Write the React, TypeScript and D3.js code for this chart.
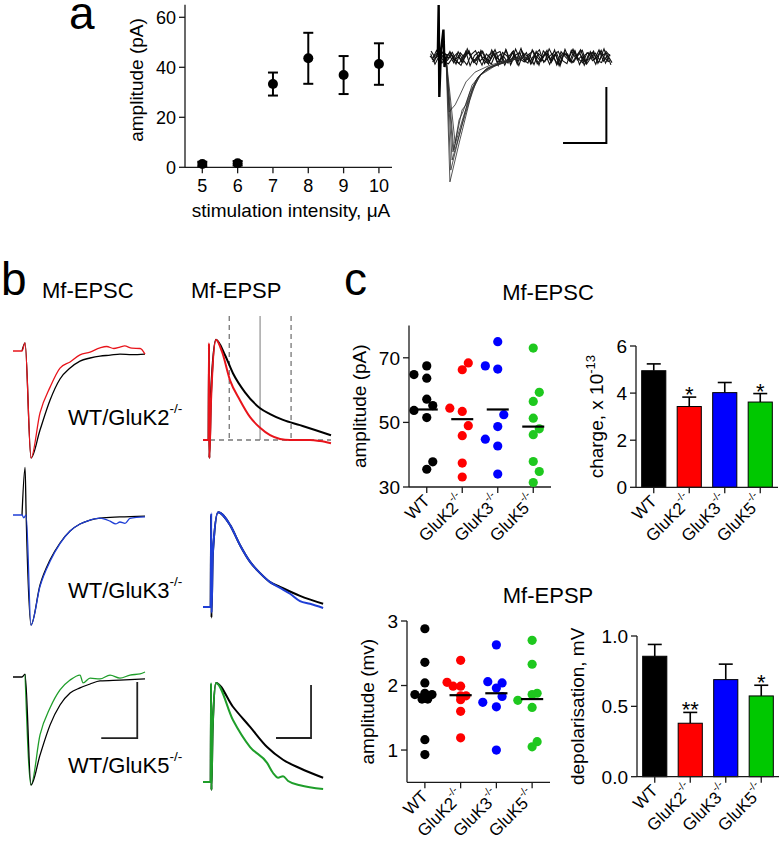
import React from 'react';
import * as d3 from 'd3';

type Pt = [number, number];

const FONT = "'Liberation Sans', Arial, Helvetica, sans-serif";

// ---- panel a: amplitude vs stimulation intensity
const intensities = [5, 6, 7, 8, 9, 10];
const amplitudeMean = [1.3, 1.6, 33.3, 43.6, 36.9, 41.3];
const amplitudeSem = [0.9, 0.9, 4.6, 10.2, 7.6, 8.3];
const amplitudeTicks = [0, 20, 40, 60];

// example sweeps (t in ms, I in pA)
const stimArtifact: Pt[] = [[1.8, 0.5], [2.0, 18.6], [2.15, -14.3], [2.5, 1.5], [3.1, 9.8], [3.35, -3.6], [3.6, 0]];
const successSweeps: Pt[][] = [
  [[3.7, 0], [4.6, -44.6], [6.9, -29.6], [9.2, -15.4], [10.9, -7.5], [13.2, -3.9], [16.2, -2.1], [19.6, -0.7], [23, 0]],
  [[3.7, 0], [5.1, -36.8], [7.4, -24.3], [9.7, -12.5], [11.5, -6.4], [14.3, -3.2], [18, -1.4], [22, 0]],
  [[3.7, 0], [5.3, -33.9], [7.6, -21.8], [9.9, -11.1], [12, -5.7], [15, -2.9], [18.9, -1.1], [22, 0]],
  [[3.7, 0], [5.8, -30.7], [7.4, -18.9], [8.3, -17.1], [9.7, -10], [12.7, -4.6], [16.2, -2.5], [20, -0.6]],
  [[3.7, 0], [4.4, -19.6], [5.8, -17.1], [6.9, -13.6], [8.3, -8.9], [10.4, -5.4], [13.9, -2.9], [17.3, -1.4], [21, 0]],
  [[3.7, 0], [4.8, -40.4], [6.5, -29.6], [8.8, -15.4], [10.6, -8.2], [13.4, -3.9], [17.3, -1.8], [21, -0.3]],
  [[3.7, 0], [5.5, -33.2], [6.7, -22.5], [7.6, -19.6], [9.2, -12.5], [11.3, -6.8], [15, -3.2], [19, -1]],
];
// failures: one value per ms, each sweep starting at its own offset
const failureOffset = [0, 0.5, 0.25, 0.75, 0.15, 0.6];
const failureSweeps: number[][] = [
  [0.4, -1.5, 1.9, 0.2, -1.2, 0.8, -2.5, 1.5, -0.3, 2.2, -1.8, 0.4, -2.9, 1.1, -0.6, 2.6, -1.4, 0.2, -2.2, 1.8, -0.9, 3.1, -1.6, 0.7, -2.7, 1.3, -0.2, 2.4, -1.9, 0.9, -3.2, 1.6, -0.5, 2.8, -1.1, 0.3, -2.4, 1.9, -0.8, 2.5, -1.5, 0.6, -2.0],
  [-1.1, 2.3, -0.6, 1.0, 0.6, -2.1, 1.9, -0.7, -2.8, 0.9, 2.3, -1.5, 0.1, -2.6, 1.7, -0.4, -1.9, 2.7, -1.2, 0.5, -3.0, 1.4, 0.2, -2.3, 2.0, -0.8, -1.6, 2.9, -0.3, -2.5, 1.2, 0.7, -1.8, 2.1, -2.7, 0.4, 1.6, -1.3, -0.1, 2.4, -2.2, 1.0],
  [2.1, -0.4, 0.9, -1.8, -2.4, -0.2, 1.3, -1.7, 2.0, -3.1, 0.5, 1.8, -0.9, -2.2, 2.5, -0.6, 1.0, -2.9, 0.3, 2.2, -1.4, -0.5, 1.6, -2.5, 0.8, 2.6, -1.9, -0.1, 1.2, -2.8, 1.9, 0.0, -1.5, 2.3, -0.7, -2.1, 1.5, 0.6, -2.6, 1.8, -0.3, -1.7],
  [-0.2, 1.6, -2.2, 0.3, 1.4, -1.0, -2.3, 0.7, 1.9, -0.8, -2.7, 2.4, -0.2, -1.5, 1.0, -3.0, 1.6, 0.4, -2.0, 2.8, -0.7, -1.8, 0.9, 2.0, -2.4, -0.3, 1.7, -1.2, 2.5, -2.9, 0.6, 1.1, -2.1, 0.2, 2.6, -1.6, -0.6, 2.1, -2.3, 0.8, 1.3, -2.8],
  [1.2, -2.6, 0.5, 1.9, -0.5, 1.7, -1.6, -3.0, 0.8, 1.4, -2.0, -0.4, 2.1, -1.2, -2.5, 1.2, 2.0, -1.7, -0.8, 1.5, -2.6, 2.3, -0.6, -1.4, 0.9, -2.9, 2.2, 0.4, -1.0, 1.6, -2.2, 2.7, -0.9, -1.9, 1.0, 2.4, -2.5, -0.2, 1.4, -1.1, 2.9, -1.8],
  [-1.8, 0.7, 2.4, -1.0, 2.0, -1.4, 0.3, -2.0, 2.9, -0.6, -1.2, 1.6, -2.4, 0.8, 1.9, -1.9, -0.3, 2.3, -2.8, 0.6, 1.5, -1.0, -2.2, 2.6, 0.1, -1.6, 1.1, -2.6, 0.7, 2.0, -1.3, -2.4, 2.4, -0.4, 1.3, -2.9, 0.9, 1.7, -1.4, -2.0, 2.0, 0.3],
];

// ---- panel b: averaged traces, WT (black) vs KO (colour); EPSC t ms / I pA, EPSP t ms / V mV
const rowLabels = ['GluK2', 'GluK3', 'GluK5'];
const koTraceColors = ['#e8141b', '#1f3fd6', '#1f9e2a'];
const epscWT: Pt[][] = [
  [[5, 0], [6.7, 2.9], [10, -38.2], [15, -28.2], [20.6, -17.5], [26.1, -10], [31.7, -6.1], [37.2, -3.6], [42.8, -2.5], [48.3, -1.8], [54, -1.5], [59.4, -1.1], [66, -1.3], [73.3, -1.1]],
  [[5, 0], [6.7, 17], [7.3, 0], [10, -39.3], [15, -25], [20.6, -16], [26.1, -10], [31.7, -5.7], [37.2, -3.2], [42.8, -1.8], [48.3, -1.1], [59.4, -0.7], [73.3, -0.4]],
  [[0, 0], [5, 0], [6.7, 1], [10, -38.6], [15, -27.9], [20.6, -17.1], [26.1, -10], [31.7, -5.7], [37.2, -3.9], [42.8, -2.5], [48.3, -1.4], [59.4, -1.1], [73.3, -0.7]],
];
const epscKO: Pt[][] = [
  [[0, 0], [5, 0], [6.7, 2.9], [10, -38.2], [15, -22.1], [20.6, -12.9], [26.1, -6.1], [31.7, -3.9], [37.2, -1.4], [42.8, -0.4], [48.3, 1.1], [52, 1.6], [56, 0.9], [59.4, 1.4], [62, 1.8], [66, 1.0], [70.6, 0.9], [73.3, -1.1]],
  [[0, 0], [5, 0], [6, -1], [7.3, 0], [10, -39.3], [15, -25.5], [20.6, -16.5], [26.1, -10.2], [31.7, -5.7], [37.2, -3.2], [42.8, -1.8], [48.3, -1.1], [53.9, -2.2], [57, -3.2], [59.4, -2.5], [62.2, -3.0], [65, -1.2], [73.3, -0.7]],
  [[6.7, 1], [10, -38.6], [15, -20.7], [20.6, -11], [26.1, -4.6], [31.7, -1.1], [37.2, 0.7], [38.9, -2.1], [42.8, -0.4], [48.3, -0.7], [53.9, 0.7], [59.4, -0.4], [65, 0.7], [70.6, 1.1], [73.3, 1.8]],
];
const epspWT: Pt[][] = [
  [[3.2, 0], [3.4, 1.8], [3.6, -0.34], [4.6, 0.9], [7.4, 1.89], [12.6, 1.6], [17.1, 1.26], [24, 0.9], [32.6, 0.6], [38.3, 0.49], [45.7, 0.38], [55.4, 0.28], [64, 0.19], [73.1, 0.09]],
  [[4.4, 0], [4.6, 1.74], [4.8, -0.2], [5.6, 1.0], [8.6, 1.79], [15.4, 1.55], [21.1, 1.17], [26.9, 0.85], [32.6, 0.64], [38.3, 0.47], [44, 0.38], [55.4, 0.21], [68.6, 0.06]],
  [[4.4, 0], [4.6, 1.85], [4.8, -0.15], [5.5, 1.0], [7.4, 1.87], [17.1, 1.42], [26.9, 1.04], [36.6, 0.66], [45.7, 0.42], [55.4, 0.26], [68.6, 0.08]],
];
const epspKO: Pt[][] = [
  [[0, 0], [3.2, 0], [3.4, 1.83], [3.6, -0.34], [4.6, 0.75], [7.4, 1.89], [10.9, 1.66], [15.4, 1.13], [21.1, 0.75], [26.9, 0.43], [32.6, 0.23], [38.3, 0.09], [44, 0.02], [49.7, 0], [61.1, 0], [66.9, -0.02], [73.1, -0.06]],
  [[0, 0], [4.4, 0], [4.7, 1.77], [4.9, -0.11], [5.6, 1.0], [8.6, 1.79], [15.4, 1.55], [21.1, 1.17], [26.9, 0.85], [32.6, 0.64], [38.3, 0.47], [44, 0.36], [49.7, 0.25], [55.4, 0.11], [61.1, 0.06], [68.6, -0.02]],
  [[0, 0], [4.4, 0], [4.6, 1.87], [4.8, -0.15], [5.5, 1.0], [7.4, 1.87], [17.1, 1.17], [26.9, 0.66], [36.6, 0.36], [40, 0.17], [42.9, 0.08], [45.7, 0.11], [48.6, 0.02], [55.4, -0.06], [68.6, -0.13]],
];
const chargeWindow = [15, 32.6, 50.3]; // ms

// ---- panel c
const genotypes = ['WT', 'GluK2', 'GluK3', 'GluK5'];
const dotColors = ['#000000', '#ff0000', '#0000ff', '#1ec81e'];
const barColors = ['#000000', '#ff0000', '#0000ff', '#00c800'];

const epscAmplitude = [
  [64.8, 67.5, 63.7, 57.2, 55.2, 53.7, 51.5, 37.8, 35.5],
  [54.4, 53.4, 66.3, 68.4, 49.0, 45.9, 37.4, 33.1],
  [75.0, 67.5, 66.5, 52.4, 48.7, 44.8, 42.7, 34.0],
  [73.0, 59.3, 56.5, 51.3, 48.0, 46.2, 37.9, 34.8, 31.4],
];
const epscJitter = [
  [-0.36, 0, 0, 0, 0.17, -0.36, 0, 0.17, 0],
  [-0.35, 0, 0, 0.17, 0.17, 0, 0, 0],
  [0, -0.35, 0, 0.17, 0, -0.35, 0, 0],
  [0, 0.17, 0, 0, 0.17, 0, 0, 0.17, 0],
];
const epscMedian = [54.0, 51.0, 54.0, 48.7];
const epscCharge = [4.95, 3.43, 4.02, 3.62];
const epscChargeSem = [0.29, 0.4, 0.43, 0.36];
const epscSig = ['', '*', '', '*'];

const epspAmplitude = [
  [2.88, 2.36, 2.04, 1.88, 1.86, 1.86, 1.79, 1.79, 1.16, 0.93],
  [2.39, 2.05, 1.99, 1.99, 1.84, 1.84, 1.78, 1.6, 1.19],
  [2.63, 2.06, 2.04, 1.96, 1.83, 1.74, 1.67, 1.0],
  [2.7, 2.33, 1.88, 1.86, 1.77, 1.66, 1.13, 1.05],
];
const epspJitter = [
  [0, 0, 0, 0, -0.28, 0.2, -0.08, 0.08, 0, 0],
  [0, -0.38, -0.21, 0, 0, 0.15, 0, 0, 0],
  [0, -0.24, 0.16, 0, 0.16, -0.38, 0, 0],
  [0, 0, 0.14, 0, -0.4, 0, 0.14, 0],
];
const epspMedian = [1.86, 1.85, 1.88, 1.79];
const epspDepol = [0.856, 0.38, 0.69, 0.574];
const epspDepolSem = [0.084, 0.077, 0.11, 0.076];
const epspSig = ['', '**', '', '*'];

const AX = '#1a1a1a';

function Ko({ size }: { size: number }) {
  return <tspan dy={-size * 0.55} fontSize={size * 0.62}>-/-</tspan>;
}

function LeftAxis({ y, x, ticks, fmt, fs = 19 }: any) {
  const [b, t] = y.range();
  return (
    <g>
      <line x1={x} x2={x} y1={b} y2={t} stroke={AX} strokeWidth={1.3} />
      {ticks.map((v: number) => (
        <g key={v}>
          <line x1={x - 6} x2={x} y1={y(v)} y2={y(v)} stroke={AX} strokeWidth={1.3} />
          <text x={x - 9} y={y(v)} dy="0.36em" textAnchor="end" fontSize={fs}>{fmt ? fmt(v) : v}</text>
        </g>
      ))}
    </g>
  );
}

function GenotypeAxis({ band, y }: any) {
  const [x0, x1] = band.range();
  return (
    <g>
      <line x1={x0} x2={x1} y1={y} y2={y} stroke={AX} strokeWidth={1.3} />
      {genotypes.map((g, k) => {
        const cx = band(g) + band.bandwidth() / 2;
        return (
          <g key={g}>
            <line x1={cx} x2={cx} y1={y} y2={y + 6} stroke={AX} strokeWidth={1.3} />
            <text transform={`translate(${cx + 4},${y + 15}) rotate(-45)`} textAnchor="end" fontSize={17}>
              {g}{k > 0 && <Ko size={17} />}
            </text>
          </g>
        );
      })}
    </g>
  );
}

function DotPlot({ values, jitter, medians, y, band, ticks, fmt, label, labelX }: any) {
  const bw = band.bandwidth();
  const [bottom, top] = y.range();
  return (
    <g>
      <LeftAxis y={y} x={band.range()[0]} ticks={ticks} fmt={fmt} />
      <GenotypeAxis band={band} y={bottom} />
      {values.map((vals: number[], k: number) => {
        const cx = band(genotypes[k]) + bw / 2;
        return (
          <g key={k}>
            {vals.map((v, j) => (
              <circle key={j} cx={cx + jitter[k][j] * bw} cy={y(v)} r={4.6} fill={dotColors[k]} />
            ))}
            <line x1={cx - bw * 0.31} x2={cx + bw * 0.31} y1={y(medians[k])} y2={y(medians[k])} stroke="#000" strokeWidth={2.2} />
          </g>
        );
      })}
      <text transform={`translate(${labelX},${(top + bottom) / 2}) rotate(-90)`} textAnchor="middle" fontSize={19}>{label}</text>
    </g>
  );
}

function BarPlot({ means, sems, sig, y, band, ticks, fmt, label, labelX }: any) {
  const bw = band.bandwidth();
  const [bottom, top] = y.range();
  return (
    <g>
      {means.map((m: number, k: number) => {
        const bx = band(genotypes[k]);
        const cx = bx + bw / 2;
        const errY = y(m + sems[k]);
        return (
          <g key={k}>
            <line x1={cx} x2={cx} y1={y(m)} y2={errY} stroke="#000" strokeWidth={1.6} />
            <line x1={cx - 7} x2={cx + 7} y1={errY} y2={errY} stroke="#000" strokeWidth={1.6} />
            <rect x={bx} y={y(m)} width={bw} height={y(0) - y(m)} fill={barColors[k]} stroke="#000" strokeWidth={1} />
            {sig[k] && <text x={cx} y={errY + 5} textAnchor="middle" fontSize={22}>{sig[k]}</text>}
          </g>
        );
      })}
      <LeftAxis y={y} x={band.range()[0]} ticks={ticks} fmt={fmt} />
      <GenotypeAxis band={band} y={bottom} />
      <text transform={`translate(${labelX},${(top + bottom) / 2}) rotate(-90)`} textAnchor="middle" fontSize={19}>{label}</text>
    </g>
  );
}

function PanelA() {
  const x = d3.scaleLinear().domain([4.51, 10.37]).range([185, 392]);
  const y = d3.scaleLinear().domain([0, 65]).range([167.3, 4.8]);
  return (
    <g>
      <text x={69} y={29} fontSize={46}>a</text>
      <LeftAxis y={y} x={185} ticks={amplitudeTicks} fs={18} />
      <line x1={185} x2={392} y1={y(0)} y2={y(0)} stroke={AX} strokeWidth={1.3} />
      {intensities.map((v) => (
        <g key={v}>
          <line x1={x(v)} x2={x(v)} y1={y(0)} y2={y(0) + 6} stroke={AX} strokeWidth={1.3} />
          <text x={x(v)} y={192} textAnchor="middle" fontSize={18}>{v}</text>
        </g>
      ))}
      {intensities.map((v, k) => (
        <g key={v}>
          <line x1={x(v)} x2={x(v)} y1={y(amplitudeMean[k] - amplitudeSem[k])} y2={y(amplitudeMean[k] + amplitudeSem[k])} stroke="#000" strokeWidth={2} />
          {[-1, 1].map((s) => (
            <line key={s} x1={x(v) - 5} x2={x(v) + 5} y1={y(amplitudeMean[k] + s * amplitudeSem[k])} y2={y(amplitudeMean[k] + s * amplitudeSem[k])} stroke="#000" strokeWidth={2} />
          ))}
          <circle cx={x(v)} cy={y(amplitudeMean[k])} r={5} fill="#000" />
        </g>
      ))}
      <text transform="translate(143,80) rotate(-90)" textAnchor="middle" fontSize={19}>amplitude (pA)</text>
      <text x={291} y={217} textAnchor="middle" fontSize={19}>stimulation intensity, μA</text>
    </g>
  );
}

function PanelATraces() {
  const t = d3.scaleLinear().domain([0, 42]).range([430, 612]);
  const i = d3.scaleLinear().domain([0, -20]).range([57, 113]);
  const line = d3.line<Pt>().x((d) => t(d[0])).y((d) => i(d[1]));
  return (
    <g fill="none">
      {failureSweeps.map((s, k) => (
        <path key={'f' + k} d={line(s.map((v, j) => [j + failureOffset[k], v] as Pt)) || ''} stroke="#111" strokeWidth={1.1} />
      ))}
      {successSweeps.map((s, k) => (
        <path key={'s' + k} d={line(s) || ''} stroke="#2a2a2a" strokeWidth={0.8} />
      ))}
      <path d={line(stimArtifact) || ''} stroke="#000" strokeWidth={2.4} />
      <path d={`M${t(30.7)},${i(-30.7)}H${t(40.7)}V${i(-10.7)}`} stroke="#000" strokeWidth={2} />
    </g>
  );
}

function PanelB() {
  const tE = d3.scaleLinear().domain([0, 73.3]).range([13, 145]);
  const tP = d3.scaleLinear().domain([0, 73.1]).range([203, 331]);
  const epscBase = [351, 515, 677];
  const epspBase = [440, 607, 782];
  const labelBase = [425, 598, 773];
  return (
    <g>
      <text x={1} y={295} fontSize={46}>b</text>
      <text x={42} y={298} fontSize={22}>Mf-EPSC</text>
      <text x={191} y={298} fontSize={22}>Mf-EPSP</text>
      {rowLabels.map((g, r) => {
        const iE = d3.scaleLinear().domain([0, -20]).range([epscBase[r], epscBase[r] + 56]);
        const vP = d3.scaleLinear().domain([0, 1]).range([epspBase[r], epspBase[r] - 53]);
        const lE = d3.line<Pt>().x((d) => tE(d[0])).y((d) => iE(d[1])).curve(d3.curveMonotoneX);
        const lP = d3.line<Pt>().x((d) => tP(d[0])).y((d) => vP(d[1])).curve(d3.curveMonotoneX);
        return (
          <g key={g} fill="none">
            {r === 0 && (
              <g stroke="#777" strokeWidth={1.3}>
                {chargeWindow.map((w, k) => (
                  <line key={k} x1={tP(w)} x2={tP(w)} y1={vP(2.34)} y2={vP(0)} strokeDasharray={k === 1 ? undefined : '5,4'} stroke={k === 1 ? '#999' : '#777'} />
                ))}
                <line x1={tP(4)} x2={tP(73.1)} y1={vP(0)} y2={vP(0)} strokeDasharray="5,4" />
              </g>
            )}
            {r === 2 ? (
              <>
                <path d={lE(epscKO[r]) || ''} stroke={koTraceColors[r]} strokeWidth={1.3} />
                <path d={lE(epscWT[r]) || ''} stroke="#000" strokeWidth={1.3} />
              </>
            ) : (
              <>
                <path d={lE(epscWT[r]) || ''} stroke="#000" strokeWidth={1.3} />
                <path d={lE(epscKO[r]) || ''} stroke={koTraceColors[r]} strokeWidth={1.3} />
              </>
            )}
            <path d={lP(epspWT[r]) || ''} stroke="#000" strokeWidth={2} />
            <path d={lP(epspKO[r]) || ''} stroke={koTraceColors[r]} strokeWidth={2} />
            {r === 2 && (
              <g stroke="#222" strokeWidth={1.8}>
                <path d={`M${tE(49)},${iE(-21.8)}H${tE(69)}V${iE(-1.8)}`} />
                <path d={`M${tP(41.7)},${vP(0.83)}H${tP(61.7)}V${vP(1.83)}`} />
              </g>
            )}
            <text x={68} y={labelBase[r]} fontSize={22} fill="#000" stroke="none">
              WT/{g}<Ko size={22} />
            </text>
          </g>
        );
      })}
    </g>
  );
}

function PanelC() {
  const yA = d3.scaleLinear().domain([30, 80]).range([487, 325.5]);
  const yQ = d3.scaleLinear().domain([0, 6]).range([487.3, 346]);
  const yV = d3.scaleLinear().domain([0.5, 3]).range([782.3, 621]);
  const yD = d3.scaleLinear().domain([0, 1]).range([776.7, 636]);
  const b1 = d3.scaleBand().domain(genotypes).range([409, 551]);
  const b2 = d3.scaleBand().domain(genotypes).range([636, 778]).paddingInner(0.32).paddingOuter(0.16);
  const b3 = d3.scaleBand().domain(genotypes).range([407, 550]);
  const b4 = d3.scaleBand().domain(genotypes).range([637, 779]).paddingInner(0.32).paddingOuter(0.16);
  return (
    <g>
      <text x={344} y={295} fontSize={46}>c</text>
      <text x={548} y={300} textAnchor="middle" fontSize={22}>Mf-EPSC</text>
      <text x={548} y={603} textAnchor="middle" fontSize={22}>Mf-EPSP</text>
      <DotPlot values={epscAmplitude} jitter={epscJitter} medians={epscMedian} y={yA} band={b1} ticks={[30, 50, 70]} label="amplitude (pA)" labelX={366} />
      <BarPlot means={epscCharge} sems={epscChargeSem} sig={epscSig} y={yQ} band={b2} ticks={[0, 2, 4, 6]}
        label={<>charge, x 10<tspan dy={-8} fontSize={13}>-13</tspan></>} labelX={603} />
      <DotPlot values={epspAmplitude} jitter={epspJitter} medians={epspMedian} y={yV} band={b3} ticks={[1, 2, 3]} label="amplitude (mv)" labelX={374} />
      <BarPlot means={epspDepol} sems={epspDepolSem} sig={epspSig} y={yD} band={b4} ticks={[0, 0.5, 1]} fmt={d3.format('.1f')} label="depolarisation, mV" labelX={584} />
    </g>
  );
}

export default function App() {
  return (
    <svg width={782} height={853} style={{ position: 'absolute', left: 0, top: 0, background: '#fff' }} fontFamily={FONT}>
      <PanelA />
      <PanelATraces />
      <PanelB />
      <PanelC />
    </svg>
  );
}
